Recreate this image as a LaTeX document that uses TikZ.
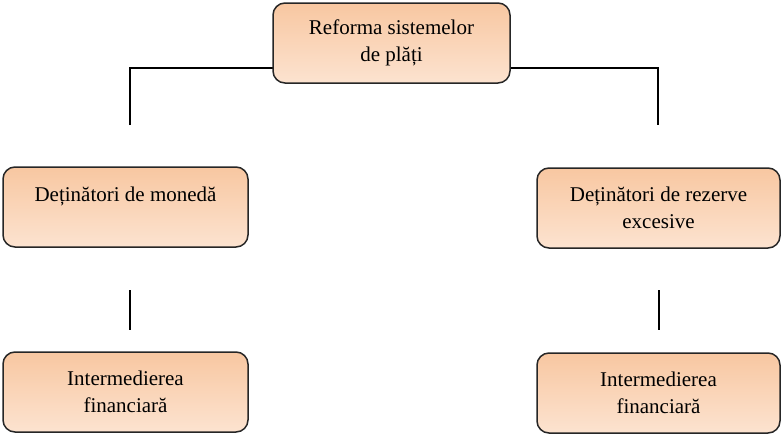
\documentclass[tikz,border=0pt]{standalone}
\usepackage{fontspec}
\setmainfont{Liberation Serif}
\begin{document}
\begin{tikzpicture}[x=1pt,y=-1pt,
  box/.style={draw=black!85, line width=1.5pt, rounded corners=12pt,
    top color=boxtop, bottom color=boxbot, align=center,
    font=\fontsize{21pt}{26.5pt}\selectfont, inner sep=0pt},
  conn/.style={draw=black, line width=1.5pt}]
\definecolor{boxtop}{HTML}{F8C7A1}
\definecolor{boxbot}{HTML}{FCE3D0}
\useasboundingbox (0,0) rectangle (781,434);
% top connectors (behind the top box)
\coordinate (hlL) at (130,68);
\coordinate (hlR) at (658,68);
\coordinate (vL) at (130,125);
\coordinate (vR) at (658,125);
\draw[conn] (vL) -- (hlL) -- (hlR) -- (vR);
% lower connectors
\coordinate (lL1) at (130,290);
\coordinate (lL2) at (130,330);
\coordinate (lR1) at (659,290);
\coordinate (lR2) at (659,330);
\draw[conn] (lL1) -- (lL2);
\draw[conn] (lR1) -- (lR2);
% boxes
\node[box, minimum width=237pt, minimum height=80pt] (top) at (391.5,43)
  {Reforma sistemelor\\de plăți};
\node[box, minimum width=245pt, minimum height=80pt] (ml) at (125.5,207)
  {Deținători de monedă\\\mbox{}};
\node[box, minimum width=243pt, minimum height=80pt] (mr) at (658.5,208)
  {Deținători de rezerve\\excesive};
\node[box, minimum width=245pt, minimum height=80pt] (bl) at (125.5,392)
  {Intermedierea\\financiară};
\node[box, minimum width=243pt, minimum height=80pt] (br) at (658.5,393)
  {Intermedierea\\financiară};
\end{tikzpicture}
\end{document}
